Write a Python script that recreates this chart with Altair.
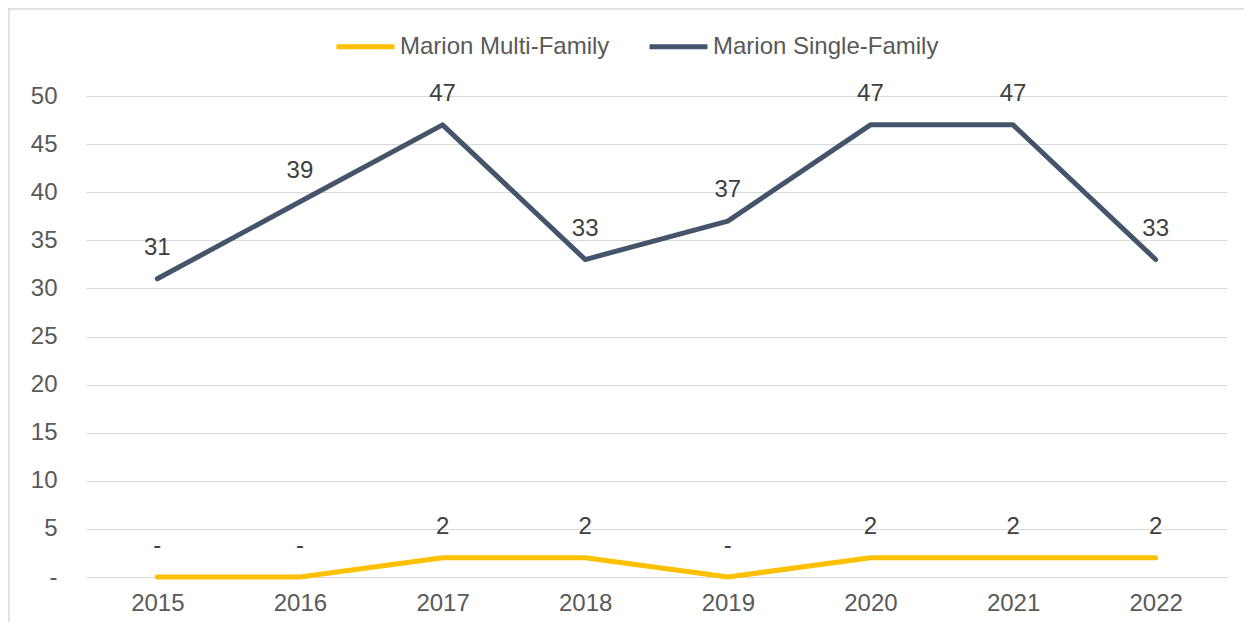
import altair as alt
import pandas as pd

years = ["2015", "2016", "2017", "2018", "2019", "2020", "2021", "2022"]
multi_family = [0, 0, 2, 2, 0, 2, 2, 2]
single_family = [31, 39, 47, 33, 37, 47, 47, 33]
series_names = ["Marion Multi-Family", "Marion Single-Family"]
series_colors = ["#FFC000", "#44546A"]

rows = []
for y, m, s in zip(years, multi_family, single_family):
    rows.append({"year": y, "series": series_names[0], "value": m})
    rows.append({"year": y, "series": series_names[1], "value": s})
df = pd.DataFrame(rows)

FONT = "Liberation Sans"
W, H = 1141, 481

x_enc = alt.X("year:N", sort=years, title=None,
              scale=alt.Scale(paddingInner=0, paddingOuter=0.5),
              axis=alt.Axis(labelAngle=0, labelFontSize=24, labelColor="#595959",
                            labelFont=FONT, ticks=False, domainColor="#D9D9D9",
                            labelPadding=14, grid=False))
y_enc = alt.Y("value:Q", title=None,
              scale=alt.Scale(domain=[0, 50], nice=False),
              axis=alt.Axis(values=list(range(0, 51, 5)), labelFontSize=24,
                            labelColor="#595959", labelFont=FONT, ticks=False,
                            domain=False, gridColor="#D9D9D9", gridWidth=1.2,
                            labelPadding=29,
                            labelExpr="datum.value == 0 ? '-' : datum.label"))

color_enc = alt.Color("series:N", scale=alt.Scale(domain=series_names, range=series_colors),
                      sort=series_names,
                      legend=alt.Legend(title=None, orient="none", direction="horizontal",
                                        legendX=248, legendY=-81,
                                        symbolType="stroke", symbolSize=58 * 58,
                                        symbolStrokeWidth=5, labelFontSize=24,
                                        labelFont=FONT, labelColor="#595959",
                                        labelOffset=3, columnPadding=29,
                                        labelLimit=400))

lines = alt.Chart(df).mark_line(strokeWidth=5, strokeCap="round", strokeJoin="round").encode(
    x=x_enc, y=y_enc, color=color_enc, detail="series:N"
)

labels = alt.Chart(df).transform_calculate(
    lab="datum.value == 0 ? '-' : format(datum.value, 'd')"
).mark_text(fontSize=24, font=FONT, color="#404040", dy=-31, align="center",
            baseline="middle").encode(
    x=alt.X("year:N", sort=years),
    y=alt.Y("value:Q"),
    text="lab:N",
)

frame_df = pd.DataFrame({"a": [0]})
border_top = alt.Chart(frame_df).mark_rule(stroke="#D9D9D9", strokeWidth=1.5).encode(
    x=alt.value(-78), x2=alt.value(W + 17), y=alt.value(-87)
)
border_left = alt.Chart(frame_df).mark_rule(stroke="#D9D9D9", strokeWidth=1.5).encode(
    x=alt.value(-77), y=alt.value(-88), y2=alt.value(H + 45)
)

chart = alt.layer(border_top, border_left, lines, labels).properties(
    width=W, height=H,
    autosize=alt.AutoSizeParams(type="none"),
    padding={"left": 78, "top": 88, "right": 17, "bottom": 45},
).configure(background="white").configure_view(stroke=None)

chart.save("out.html", embed_options={"renderer": "svg", "actions": False})
